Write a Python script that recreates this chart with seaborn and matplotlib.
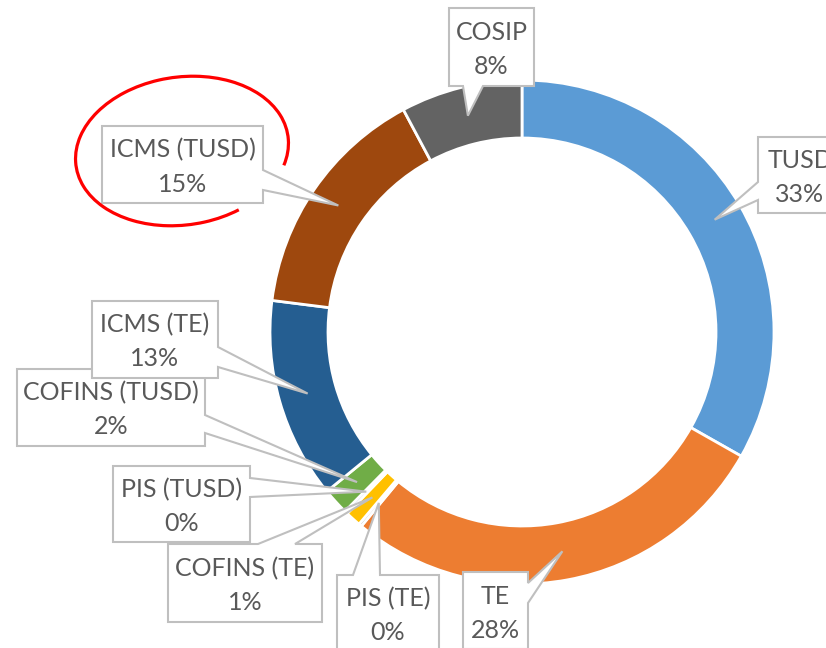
import numpy as np
import matplotlib.pyplot as plt
import seaborn as sns
from matplotlib.patches import Polygon, Arc

categories = ['TUSD', 'TE', 'PIS (TE)', 'COFINS (TE)', 'PIS (TUSD)',
              'COFINS (TUSD)', 'ICMS (TE)', 'ICMS (TUSD)', 'COSIP']
shares = [33.2, 27.8, 0.2, 1.0, 0.2, 1.7, 12.9, 15.2, 7.8]
colors = ['#5B9BD5', '#ED7D31', '#A5A5A5', '#FFC000', '#4472C4',
          '#70AD47', '#255E91', '#9E480E', '#636363']

W, H = 826, 648
CX, CY = 522, 332          # donut centre in screen pixels (top-left origin)
R_OUT, R_IN = 252, 194

# callout boxes in screen px: (x0, y0, x1, y1), tail side, tail base from/to
boxes = {
    'TUSD':          ((758, 137, 842, 213), 'left', 182, 200),
    'TE':            ((463, 572, 528, 649), 'right', 583, 603),
    'PIS (TE)':      ((337, 575, 439, 652), 'top', 353, 380),
    'COFINS (TE)':   ((168, 544, 322, 622), 'top', 258, 295),
    'PIS (TUSD)':    ((113, 466, 250, 542), 'right', 478, 497),
    'COFINS (TUSD)': ((17, 369, 205, 446), 'right', 415, 433),
    'ICMS (TE)':     ((92, 301, 218, 378), 'right', 347, 367),
    'ICMS (TUSD)':   ((102, 126, 263, 203), 'right', 170, 190),
    'COSIP':         ((449, 8, 534, 86), 'bottom', 463, 483),
}

sns.set_theme(style="white")
plt.rcParams['font.family'] = ['Lato', 'DejaVu Sans']


def scr(x, y):
    return (x, H - y)


fig = plt.figure(figsize=(W / 100, H / 100), dpi=100)
ax = fig.add_axes([0, 0, 1, 1])

ax.pie(shares, colors=colors, startangle=90, counterclock=False,
       radius=R_OUT, center=scr(CX, CY),
       wedgeprops=dict(width=R_OUT - R_IN, edgecolor='white', linewidth=2.0))

ax.set_xlim(0, W)
ax.set_ylim(0, H)
ax.set_aspect('auto')
ax.axis('off')

# tail tips sit at the middle of each slice
frac = np.array(shares) / sum(shares)
mids = np.cumsum(frac) - frac / 2
r_mid = (R_OUT + R_IN) / 2

for i, (cat, val) in enumerate(zip(categories, shares)):
    (x0, y0, x1, y1), side, b0, b1 = boxes[cat]
    ang = np.deg2rad(mids[i] * 360)
    tip = (CX + r_mid * np.sin(ang), CY - r_mid * np.cos(ang))
    if side == 'top':
        pts = [(x0, y0), (b0, y0), tip, (b1, y0), (x1, y0), (x1, y1), (x0, y1)]
    elif side == 'right':
        pts = [(x0, y0), (x1, y0), (x1, b0), tip, (x1, b1), (x1, y1), (x0, y1)]
    elif side == 'bottom':
        pts = [(x0, y0), (x1, y0), (x1, y1), (b1, y1), tip, (b0, y1), (x0, y1)]
    else:
        pts = [(x0, y0), (x1, y0), (x1, y1), (x0, y1), (x0, b1), tip, (x0, b0)]
    ax.add_patch(Polygon([scr(*p) for p in pts], closed=True, facecolor='white',
                         edgecolor='#BFBFBF', linewidth=1.5, zorder=10 + 2 * i))
    tx = (x0 + x1) / 2
    cy = (y0 + y1) / 2
    ax.text(*scr(tx, cy - 7), cat, ha='center', va='baseline', fontsize=18,
            color='#595959', zorder=11 + 2 * i)
    ax.text(*scr(tx, cy + 27), f'{val:.0f}%', ha='center', va='baseline',
            fontsize=18, color='#595959', zorder=11 + 2 * i)

# red hand-drawn circle round ICMS (TUSD)
ax.add_patch(Arc(scr(182, 151), 214, 148, angle=8, theta1=-16, theta2=306,
                 color='#FF0000', linewidth=2.3, zorder=40))

fig.savefig('out.png', dpi=100)
plt.close(fig)
